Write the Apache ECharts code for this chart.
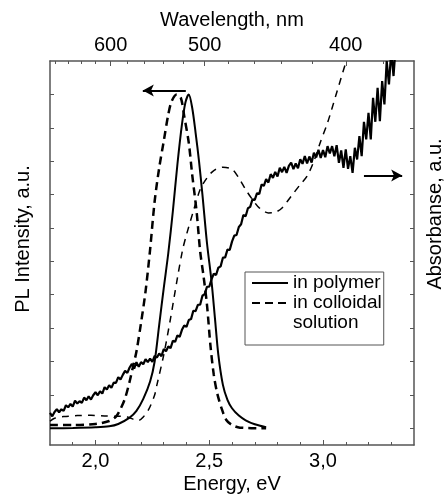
<!DOCTYPE html>
<html>
<head>
<meta charset="utf-8">
<script src="https://cdn.jsdelivr.net/npm/echarts@6/dist/echarts.min.js"></script>
<style>
  html, body { margin: 0; padding: 0; background: #fff; }
  #chart { width: 444px; height: 496px; }
</style>
</head>
<body>
<div id="chart"></div>
<script>
// energy axis (bottom), eV
const energyTicks = [2.0, 2.5, 3.0]
const energyMinorTicks = [1.9, 2.1, 2.2, 2.3, 2.4, 2.6, 2.7, 2.8, 2.9, 3.1, 3.2, 3.3]
// wavelength axis (top), nm
const wavelengthTicks = [600, 500, 400]
const wavelengthMinorTicks = [680, 660, 640, 620, 580, 560, 540, 520, 480, 460, 440, 420, 380]
// y ticks, no labels (a.u.)
const intensityTicks = [0, 0.1, 0.2, 0.3, 0.4, 0.5, 0.6, 0.7, 0.8, 0.9, 1.0]

// PL, polymer (solid)
const plPolymer = [
  [1.80, 0.000], [1.90, 0.001], [2.00, 0.003], [2.06, 0.006], [2.10, 0.013], [2.15, 0.032],
  [2.18, 0.052], [2.21, 0.088], [2.24, 0.140], [2.26, 0.200], [2.28, 0.310], [2.30, 0.420],
  [2.32, 0.525], [2.34, 0.650], [2.36, 0.790], [2.38, 0.910], [2.395, 0.975], [2.41, 1.000],
  [2.425, 0.960], [2.44, 0.885], [2.455, 0.800], [2.47, 0.700], [2.49, 0.555], [2.51, 0.440],
  [2.525, 0.330], [2.54, 0.220], [2.56, 0.130], [2.58, 0.085], [2.60, 0.060], [2.63, 0.038],
  [2.66, 0.024], [2.70, 0.012], [2.75, 0.003]
]
// PL, colloidal solution (dashed)
const plColloid = [
  [1.80, 0.010], [1.90, 0.010], [2.00, 0.013], [2.06, 0.022], [2.09, 0.035], [2.11, 0.058],
  [2.13, 0.090], [2.15, 0.140], [2.165, 0.185], [2.18, 0.230], [2.20, 0.315], [2.22, 0.410],
  [2.24, 0.535], [2.26, 0.680], [2.28, 0.780], [2.30, 0.860], [2.32, 0.940], [2.335, 0.980],
  [2.357, 1.000], [2.375, 0.990], [2.39, 0.935], [2.41, 0.855], [2.425, 0.760], [2.445, 0.645],
  [2.46, 0.530], [2.475, 0.455], [2.49, 0.370], [2.505, 0.250], [2.52, 0.160], [2.535, 0.105],
  [2.555, 0.058], [2.575, 0.025], [2.60, 0.010], [2.635, 0.002], [2.75, 0.000]
]
// absorbance, polymer (noisy solid)
const absPolymer = [
  [1.80, 0.046], [1.81, 0.036], [1.82, 0.049], [1.83, 0.057], [1.84, 0.048], [1.85, 0.057],
  [1.86, 0.052], [1.87, 0.069], [1.88, 0.063], [1.89, 0.073], [1.90, 0.065], [1.91, 0.083],
  [1.92, 0.074], [1.93, 0.081], [1.94, 0.076], [1.95, 0.092], [1.96, 0.084], [1.97, 0.096],
  [1.98, 0.086], [1.99, 0.099], [2.00, 0.108], [2.01, 0.099], [2.02, 0.111], [2.03, 0.104],
  [2.04, 0.123], [2.05, 0.116], [2.06, 0.129], [2.07, 0.121], [2.08, 0.137], [2.09, 0.136],
  [2.10, 0.153], [2.11, 0.146], [2.12, 0.160], [2.13, 0.172], [2.14, 0.166], [2.15, 0.182],
  [2.16, 0.193], [2.17, 0.179], [2.18, 0.198], [2.19, 0.184], [2.20, 0.198], [2.21, 0.192],
  [2.22, 0.207], [2.23, 0.198], [2.24, 0.209], [2.25, 0.199], [2.26, 0.217], [2.27, 0.212],
  [2.28, 0.224], [2.29, 0.216], [2.30, 0.237], [2.31, 0.231], [2.32, 0.245], [2.33, 0.240],
  [2.34, 0.262], [2.35, 0.259], [2.36, 0.278], [2.37, 0.274], [2.38, 0.295], [2.39, 0.308],
  [2.40, 0.304], [2.41, 0.324], [2.42, 0.327], [2.43, 0.352], [2.44, 0.351], [2.45, 0.370],
  [2.46, 0.370], [2.47, 0.397], [2.48, 0.402], [2.49, 0.424], [2.50, 0.424], [2.51, 0.446],
  [2.52, 0.463], [2.53, 0.459], [2.54, 0.481], [2.55, 0.485], [2.56, 0.511], [2.57, 0.512],
  [2.58, 0.535], [2.59, 0.534], [2.60, 0.559], [2.61, 0.577], [2.62, 0.579], [2.63, 0.603],
  [2.64, 0.611], [2.65, 0.639], [2.66, 0.635], [2.67, 0.659], [2.68, 0.663], [2.69, 0.686],
  [2.70, 0.684], [2.71, 0.704], [2.72, 0.702], [2.73, 0.730], [2.74, 0.726], [2.75, 0.746],
  [2.76, 0.736], [2.77, 0.761], [2.78, 0.750], [2.79, 0.768], [2.80, 0.754], [2.81, 0.780],
  [2.82, 0.767], [2.83, 0.783], [2.84, 0.765], [2.85, 0.786], [2.86, 0.796], [2.87, 0.776],
  [2.88, 0.793], [2.89, 0.779], [2.90, 0.806], [2.91, 0.792], [2.92, 0.815], [2.93, 0.793],
  [2.94, 0.814], [2.95, 0.796], [2.96, 0.825], [2.97, 0.811], [2.98, 0.834], [2.99, 0.810],
  [3.00, 0.833], [3.01, 0.812], [3.02, 0.845], [3.03, 0.823], [3.04, 0.845], [3.05, 0.815],
  [3.06, 0.848], [3.07, 0.795], [3.08, 0.832], [3.09, 0.780], [3.10, 0.835], [3.11, 0.777],
  [3.12, 0.815], [3.13, 0.765], [3.14, 0.840], [3.15, 0.805], [3.16, 0.875], [3.17, 0.815],
  [3.18, 0.918], [3.19, 0.865], [3.20, 0.945], [3.21, 0.865], [3.22, 0.990], [3.23, 0.918],
  [3.24, 1.020], [3.25, 0.920], [3.26, 1.040], [3.27, 0.970], [3.28, 1.100], [3.29, 1.030],
  [3.30, 1.130], [3.31, 1.055], [3.32, 1.150], [3.33, 1.105], [3.34, 1.170]
]
// absorbance, colloidal solution (thin dashed)
const absColloid = [
  [1.80, 0.021], [1.82, 0.030], [1.86, 0.035], [1.92, 0.038], [1.98, 0.039], [2.04, 0.037],
  [2.10, 0.036], [2.14, 0.034], [2.17, 0.026], [2.19, 0.024], [2.21, 0.034], [2.235, 0.058],
  [2.26, 0.100], [2.27, 0.130], [2.30, 0.220], [2.33, 0.330], [2.36, 0.450], [2.383, 0.535],
  [2.40, 0.580], [2.43, 0.650], [2.46, 0.715], [2.49, 0.750], [2.52, 0.772], [2.56, 0.782],
  [2.60, 0.776], [2.63, 0.750], [2.66, 0.715], [2.69, 0.685], [2.72, 0.660], [2.76, 0.645],
  [2.79, 0.647], [2.82, 0.660], [2.86, 0.695], [2.90, 0.730], [2.93, 0.755], [2.96, 0.800],
  [2.99, 0.860], [3.02, 0.915], [3.06, 1.005], [3.10, 1.095], [3.14, 1.180]
]
// arrows: which axis each group of curves belongs to
const plArrow = [[2.397, 1.012], [2.208, 1.012]]
const absArrow = [[3.18, 0.757], [3.348, 0.757]]

const font = 'Liberation Sans, Arial, sans-serif'
const frame = '#555'
const toEv = nm => 1240 / nm

const chart = echarts.init(document.getElementById('chart'))

const xBase = {
  type: 'value',
  gridIndex: 0,
  min: 1.8,
  max: 3.4,
  splitLine: { show: false },
  axisLine: { show: false, onZero: false },
  axisTick: { show: false },
  axisLabel: { show: false }
}
const yBase = {
  type: 'value',
  min: -0.05,
  max: 1.1,
  splitLine: { show: false },
  axisLine: { show: true, onZero: false, lineStyle: { color: frame, width: 1.5 } },
  axisTick: { show: true, inside: true, length: 4, customValues: intensityTicks, lineStyle: { color: frame, width: 1 } },
  axisLabel: { show: false },
  nameLocation: 'middle',
  nameRotate: 90,
  nameTextStyle: { fontFamily: font, fontSize: 20, color: '#000' }
}
const arrowLine = {
  silent: true,
  symbol: ['none', 'arrow'],
  symbolSize: [9, 11],
  label: { show: false },
  lineStyle: { color: '#000', width: 2, type: 'solid' }
}

chart.setOption({
  animation: false,
  grid: { left: 50, right: 30, top: 61, bottom: 51, containLabel: false, outerBoundsMode: 'none' },
  xAxis: [
    {
      ...xBase,
      position: 'bottom',
      axisLine: { show: true, onZero: false, lineStyle: { color: frame, width: 1.5 } },
      axisTick: { show: true, inside: true, length: 5, customValues: energyTicks, lineStyle: { color: frame, width: 1 } },
      axisLabel: {
        show: true, customValues: energyTicks, margin: 6,
        fontFamily: font, fontSize: 20, color: '#000',
        formatter: v => v.toFixed(1).replace('.', ',')
      },
      name: 'Energy, eV',
      nameLocation: 'middle',
      nameGap: 29,
      nameMoveOverlap: false,
      nameTextStyle: { fontFamily: font, fontSize: 20, color: '#000' }
    },
    {
      ...xBase,
      position: 'bottom',
      axisTick: { show: true, inside: true, length: 3, customValues: energyMinorTicks, lineStyle: { color: frame, width: 1 } }
    },
    {
      ...xBase,
      position: 'top',
      axisLine: { show: true, onZero: false, lineStyle: { color: frame, width: 1.5 } },
      axisTick: { show: true, inside: true, length: 5, customValues: wavelengthTicks.map(toEv), lineStyle: { color: frame, width: 1 } },
      axisLabel: {
        show: true, customValues: wavelengthTicks.map(toEv), margin: 6,
        fontFamily: font, fontSize: 20, color: '#000',
        formatter: v => String(Math.round(1240 / v))
      },
      name: 'Wavelength, nm',
      nameLocation: 'middle',
      nameGap: 31,
      nameMoveOverlap: false,
      nameTextStyle: { fontFamily: font, fontSize: 20, color: '#000' }
    },
    {
      ...xBase,
      position: 'top',
      axisTick: { show: true, inside: true, length: 3, customValues: wavelengthMinorTicks.map(toEv), lineStyle: { color: frame, width: 1 } }
    }
  ],
  yAxis: [
    {
      ...yBase,
      position: 'left',
      name: 'PL Intensity, a.u.',
      nameGap: 17,
      nameTextStyle: { ...yBase.nameTextStyle, padding: [0, 0, 0, 28] }
    },
    {
      ...yBase,
      position: 'right',
      name: 'Absorbanse, a.u.',
      nameGap: 11,
      nameTextStyle: { ...yBase.nameTextStyle, padding: [0, 0, 0, 78] }
    }
  ],
  legend: {
    orient: 'vertical',
    left: 245,
    top: 272,
    itemWidth: 36,
    itemHeight: 12,
    itemGap: 0,
    padding: [1, 2, 12, 6],
    borderColor: frame,
    borderWidth: 1,
    backgroundColor: '#fff',
    selectedMode: false,
    itemStyle: { opacity: 0 },
    textStyle: { fontFamily: font, fontSize: 19, lineHeight: 20, color: '#000' },
    data: [
      { name: 'in polymer' },
      { name: 'in colloidal' },
      { name: 'solution', icon: 'none' }
    ]
  },
  series: [
    {
      name: 'in polymer',
      type: 'line',
      xAxisIndex: 0,
      yAxisIndex: 0,
      data: plPolymer,
      symbol: 'none',
      smooth: 0.3,
      lineStyle: { color: '#000', width: 2 },
      itemStyle: { color: '#000' },
      markLine: { ...arrowLine, data: [[{ coord: plArrow[0] }, { coord: plArrow[1] }]] }
    },
    {
      name: 'in colloidal',
      type: 'line',
      xAxisIndex: 0,
      yAxisIndex: 0,
      data: plColloid,
      symbol: 'none',
      smooth: 0.3,
      lineStyle: { color: '#000', width: 2.5, type: [8, 5] },
      itemStyle: { color: '#000' }
    },
    {
      // legend only: second line of the colloidal entry
      name: 'solution',
      type: 'line',
      xAxisIndex: 0,
      yAxisIndex: 0,
      data: [],
      symbol: 'none',
      lineStyle: { color: '#000', width: 0 },
      itemStyle: { color: '#000' }
    },
    {
      name: 'Absorbance in polymer',
      type: 'line',
      xAxisIndex: 0,
      yAxisIndex: 1,
      data: absPolymer,
      symbol: 'none',
      lineStyle: { color: '#000', width: 2.2 },
      itemStyle: { color: '#000' },
      markLine: { ...arrowLine, data: [[{ coord: absArrow[0] }, { coord: absArrow[1] }]] }
    },
    {
      name: 'Absorbance in colloidal solution',
      type: 'line',
      xAxisIndex: 0,
      yAxisIndex: 1,
      data: absColloid,
      symbol: 'none',
      smooth: 0.3,
      lineStyle: { color: '#000', width: 1.5, type: [7, 6] },
      itemStyle: { color: '#000' }
    }
  ]
})
</script>
</body>
</html>
